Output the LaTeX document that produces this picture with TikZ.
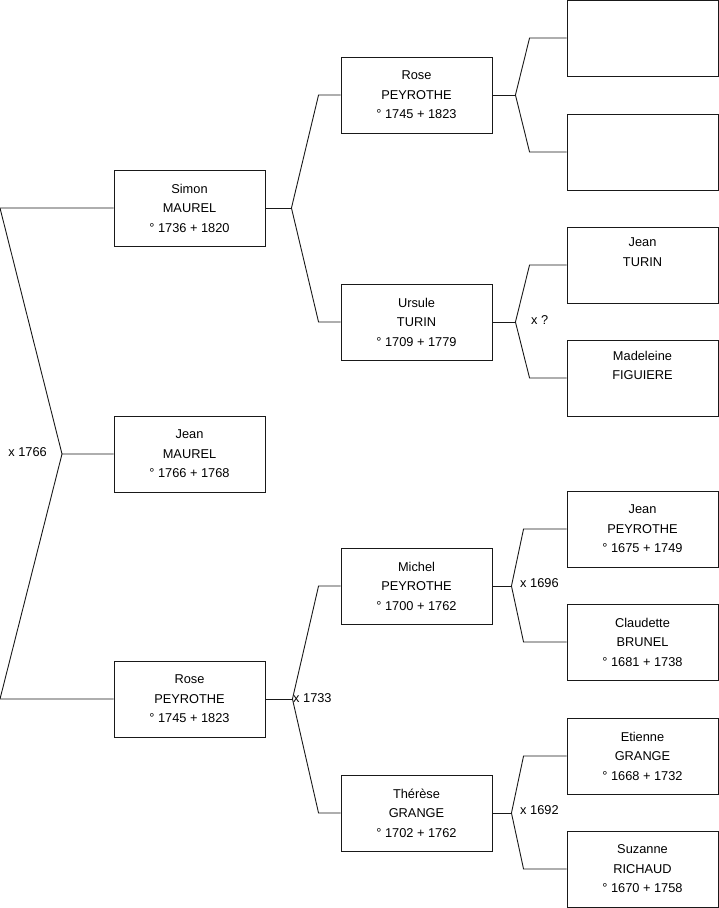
\documentclass[tikz,border=0pt]{standalone}
\usepackage{fontspec}
\setmainfont{Liberation Sans}
\usetikzlibrary{calc}
\colorlet{boxline}{black!90}
\colorlet{linkline}{black!90}
\tikzstyle{person}=[draw=boxline,line width=0.9,minimum width=151,minimum height=76,inner sep=0,align=center,font=\fontsize{12.8}{19.5}\selectfont]
\tikzstyle{link}=[linkline,line width=0.9]
\tikzstyle{wedding}=[inner sep=0,font=\fontsize{12.8}{15}\selectfont]

\begin{document}
\begin{tikzpicture}[x=1pt,y=-1pt]
  \useasboundingbox (0,0) rectangle (719,908);
  
  \def\xa{189.5} % column centres
  \def\xb{416.5}
  \def\xc{642.5}
  
  % PERSONS
  \node[person] (simon) at (\xa,208) {Simon\\MAUREL\\° 1736 + 1820};
  \node[person] (jean)  at (\xa,454) {Jean\\MAUREL\\° 1766 + 1768};
  \node[person] (rose)  at (\xa,699) {Rose\\PEYROTHE\\° 1745 + 1823};
  
  \node[person] (rosep)   at (\xb,95)  {Rose\\PEYROTHE\\° 1745 + 1823};
  \node[person] (ursule)  at (\xb,322) {Ursule\\TURIN\\° 1709 + 1779};
  \node[person] (michel)  at (\xb,586) {Michel\\PEYROTHE\\° 1700 + 1762};
  \node[person] (therese) at (\xb,813) {Thérèse\\GRANGE\\° 1702 + 1762};
  
  \node[person] (blanka)    at (\xc,38)  {};
  \node[person] (blankb)    at (\xc,152) {};
  \node[person] (jeant)     at (\xc,265) {Jean\\TURIN\\\strut};
  \node[person] (madeleine) at (\xc,378) {Madeleine\\FIGUIERE\\\strut};
  \node[person] (jeanp)     at (\xc,529) {Jean\\PEYROTHE\\° 1675 + 1749};
  \node[person] (claudette) at (\xc,642) {Claudette\\BRUNEL\\° 1681 + 1738};
  \node[person] (etienne)   at (\xc,756) {Etienne\\GRANGE\\° 1668 + 1732};
  \node[person] (suzanne)   at (\xc,869) {Suzanne\\RICHAUD\\° 1670 + 1758};
  
  % LINKS
  \coordinate (top) at (0,208);
  \coordinate (bot) at (0,699);
  \coordinate (j-jean) at (62,454);
  \draw[link] (simon.west) -- (top) -- (j-jean) -- (jean.west);
  \draw[link] (j-jean) -- (bot) -- (rose.west);
  
  \foreach \kid/\dad/\mum/\jx/\kx in {simon/rosep/ursule/26/22,rose/michel/therese/27/22,
      rosep/blanka/blankb/23/37,ursule/jeant/madeleine/23/37,
      michel/jeanp/claudette/19/43,therese/etienne/suzanne/19/43}{
    \draw[link] (\kid.east) -- ++(\jx,0) coordinate (j-\kid);
    \draw[link] (\dad.west) -- ++(-\kx,0) -- (j-\kid) -- ([xshift=-\kx]\mum.west) -- (\mum.west);
  }
  
  % MARRIAGES
  \node[wedding,anchor=east] (w-jean)    at (47,452)  {x 1766};
  \node[wedding,anchor=west] (w-ursule)  at (531,320) {x ?};
  \node[wedding,anchor=west] (w-rose)    at (293,698) {x 1733};
  \node[wedding,anchor=west] (w-michel)  at (520,583) {x 1696};
  \node[wedding,anchor=west] (w-therese) at (520,810) {x 1692};
  
\end{tikzpicture}
\end{document}
